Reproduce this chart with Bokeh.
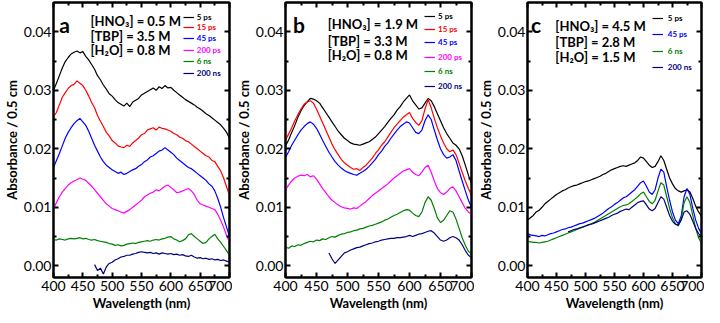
from bokeh.plotting import figure
from bokeh.models import (Range1d, FixedTicker, PrintfTickFormatter, LinearAxis,
                          Legend, LegendItem, Label, CustomJSTickFormatter)
from bokeh.layouts import row
from bokeh.embed import file_html
from bokeh.resources import INLINE

# ---------------- data ----------------
wl = list(range(400, 701, 5))
wl_late = list(range(470, 701, 5))

x_ticks = [400, 450, 500, 550, 600, 650, 700]
x_minor = [425, 475, 525, 575, 625, 675]
y_ticks = [0.0, 0.01, 0.02, 0.03, 0.04]
y_minor = [0.005, 0.015, 0.025, 0.035]

labels6 = ["5 ps", "15 ps", "45 ps", "200 ps", "6 ns", "200 ns"]
labels4 = ["5 ps", "45 ps", "6 ns", "200 ns"]
colors6 = ["#000000", "#ff0000", "#0000ff", "#ff00ff", "#008000", "#000080"]
colors4 = ["#000000", "#0000ff", "#008000", "#000080"]

conc_a = ["[HNO\u2083] = 0.5 M", "[TBP] = 3.5 M", "[H\u2082O] = 0.8 M"]
conc_b = ["[HNO\u2083] = 1.9 M", "[TBP] = 3.3 M", "[H\u2082O] = 0.8 M"]
conc_c = ["[HNO\u2083] = 4.5 M", "[TBP] = 2.8 M", "[H\u2082O] = 1.5 M"]

# panel a
a_5ps = [.0300, .0312, .0325, .0338, .0349, .0356, .0362, .0365, .0367, .0364,
         .0366, .0358, .0352, .0344, .0336, .0325, .0318, .0309, .0302, .0294,
         .0290, .0284, .0279, .0276, .0273, .0278, .0272, .0280, .0283, .0286,
         .0292, .0295, .0298, .0301, .0304, .0300, .0306, .0303, .0308, .0304,
         .0305, .0300, .0296, .0292, .0288, .0284, .0281, .0278, .0275, .0271,
         .0268, .0264, .0260, .0257, .0253, .0249, .0245, .0241, .0235, .0228,
         .0218]
a_15ps = [.0255, .0262, .0275, .0288, .0296, .0303, .0308, .0310, .0316, .0312,
          .0308, .0300, .0290, .0279, .0270, .0257, .0247, .0238, .0228, .0222,
          .0214, .0210, .0205, .0203, .0202, .0206, .0204, .0210, .0214, .0218,
          .0224, .0226, .0232, .0234, .0236, .0232, .0237, .0235, .0234, .0232,
          .0230, .0226, .0224, .0220, .0218, .0214, .0212, .0208, .0204, .0200,
          .0196, .0192, .0188, .0186, .0180, .0178, .0170, .0162, .0150, .0135,
          .0120]
a_45ps = [.0168, .0180, .0192, .0205, .0218, .0228, .0236, .0243, .0248, .0252,
          .0246, .0240, .0230, .0218, .0206, .0196, .0186, .0178, .0172, .0168,
          .0164, .0161, .0158, .0160, .0156, .0158, .0161, .0164, .0166, .0170,
          .0173, .0178, .0181, .0186, .0188, .0192, .0196, .0198, .0202, .0198,
          .0194, .0190, .0184, .0180, .0176, .0172, .0168, .0166, .0162, .0158,
          .0154, .0150, .0146, .0140, .0136, .0128, .0115, .0100, .0082, .0066,
          .0050]
a_200ps = [.0098, .0108, .0118, .0126, .0132, .0138, .0142, .0145, .0147, .0150,
           .0148, .0146, .0141, .0136, .0130, .0124, .0118, .0112, .0106, .0102,
           .0098, .0096, .0094, .0092, .0090, .0093, .0096, .0100, .0104, .0108,
           .0112, .0118, .0121, .0124, .0126, .0130, .0128, .0132, .0136, .0138,
           .0134, .0130, .0125, .0126, .0128, .0130, .0132, .0128, .0122, .0112,
           .0106, .0104, .0102, .0100, .0098, .0096, .0088, .0078, .0066, .0052,
           .0040]
a_6ns = [.0045, .0044, .0046, .0045, .0044, .0046, .0047, .0046, .0047, .0048,
         .0046, .0047, .0045, .0044, .0045, .0043, .0042, .0041, .0040, .0038,
         .0037, .0035, .0036, .0034, .0035, .0037, .0038, .0039, .0038, .0040,
         .0041, .0042, .0043, .0042, .0044, .0045, .0044, .0046, .0047, .0049,
         .0050, .0046, .0044, .0041, .0043, .0046, .0053, .0055, .0050, .0046,
         .0042, .0038, .0040, .0046, .0050, .0054, .0046, .0040, .0033, .0026,
         .0018]
a_200ns = [.0002, -.0008, -.0004, -.0014, -.0002, .0004, .0006, .0010, .0012, .0015,
           .0016, .0018, .0018, .0020, .0021, .0023, .0024, .0023, .0022, .0023,
           .0021, .0022, .0020, .0022, .0021, .0020, .0021, .0019, .0020, .0018,
           .0019, .0017, .0016, .0018, .0015, .0013, .0014, .0012, .0013, .0011,
           .0012, .0010, .0011, .0009, .0010, .0008, .0006]

# panel b
b_5ps = [.0205, .0215, .0228, .0240, .0254, .0265, .0274, .0280, .0286, .0285,
         .0282, .0278, .0270, .0262, .0254, .0246, .0238, .0230, .0224, .0218,
         .0214, .0210, .0208, .0207, .0206, .0208, .0210, .0212, .0216, .0220,
         .0226, .0232, .0238, .0245, .0252, .0258, .0266, .0272, .0280, .0286,
         .0292, .0282, .0275, .0268, .0270, .0278, .0286, .0282, .0272, .0260,
         .0248, .0236, .0226, .0218, .0210, .0206, .0200, .0188, .0172, .0155,
         .0140]
b_15ps = [.0215, .0225, .0236, .0248, .0258, .0268, .0276, .0280, .0282, .0278,
          .0268, .0256, .0244, .0232, .0220, .0208, .0198, .0190, .0182, .0176,
          .0172, .0168, .0165, .0166, .0163, .0168, .0172, .0178, .0184, .0192,
          .0198, .0206, .0212, .0220, .0228, .0236, .0242, .0248, .0254, .0258,
          .0262, .0252, .0245, .0240, .0248, .0268, .0284, .0270, .0252, .0236,
          .0222, .0210, .0200, .0195, .0198, .0190, .0175, .0160, .0145, .0132,
          .0120]
b_45ps = [.0185, .0195, .0206, .0215, .0224, .0232, .0238, .0243, .0246, .0242,
          .0235, .0225, .0214, .0204, .0194, .0186, .0178, .0172, .0167, .0163,
          .0160, .0158, .0156, .0155, .0158, .0161, .0165, .0170, .0176, .0182,
          .0190, .0196, .0204, .0210, .0218, .0225, .0232, .0238, .0242, .0246,
          .0244, .0236, .0228, .0226, .0232, .0248, .0258, .0250, .0232, .0215,
          .0200, .0190, .0184, .0186, .0190, .0180, .0162, .0145, .0128, .0112,
          .0100]
b_200ps = [.0130, .0138, .0145, .0150, .0153, .0155, .0154, .0156, .0152, .0154,
           .0148, .0140, .0132, .0125, .0118, .0112, .0108, .0104, .0101, .0099,
           .0098, .0097, .0099, .0098, .0102, .0106, .0110, .0115, .0120, .0124,
           .0128, .0132, .0136, .0140, .0145, .0150, .0154, .0158, .0162, .0164,
           .0166, .0160, .0156, .0154, .0160, .0168, .0172, .0160, .0145, .0132,
           .0125, .0122, .0126, .0132, .0135, .0128, .0118, .0108, .0098, .0092,
           .0088]
b_6ns = [.0032, .0030, .0034, .0033, .0036, .0035, .0038, .0040, .0042, .0041,
         .0044, .0043, .0046, .0045, .0048, .0050, .0049, .0052, .0054, .0055,
         .0057, .0058, .0060, .0061, .0063, .0064, .0066, .0068, .0069, .0071,
         .0073, .0075, .0078, .0080, .0083, .0086, .0088, .0091, .0094, .0096,
         .0095, .0090, .0086, .0084, .0092, .0108, .0118, .0112, .0098, .0082,
         .0074, .0078, .0086, .0094, .0092, .0080, .0064, .0048, .0035, .0025,
         .0020]
b_200ns = [.0022, .0012, .0004, .0010, .0016, .0022, .0024, .0027, .0029, .0031,
           .0032, .0034, .0036, .0038, .0039, .0041, .0042, .0044, .0045, .0046,
           .0047, .0047, .0048, .0048, .0049, .0050, .0052, .0050, .0052, .0054,
           .0055, .0057, .0059, .0060, .0056, .0050, .0044, .0042, .0044, .0048,
           .0050, .0048, .0044, .0036, .0026, .0018, .0014]

# panel c
c_5ps = [.0078, .0082, .0086, .0092, .0095, .0100, .0106, .0110, .0114, .0118,
         .0122, .0125, .0128, .0130, .0133, .0135, .0137, .0138, .0140, .0142,
         .0144, .0145, .0147, .0149, .0151, .0153, .0156, .0158, .0161, .0164,
         .0166, .0168, .0170, .0171, .0170, .0172, .0174, .0176, .0180, .0186,
         .0184, .0178, .0172, .0168, .0170, .0178, .0188, .0180, .0165, .0150,
         .0140, .0132, .0128, .0126, .0128, .0130, .0126, .0115, .0102, .0092,
         .0085]
c_45ps = [.0055, .0053, .0052, .0051, .0050, .0052, .0051, .0053, .0055, .0056,
          .0058, .0060, .0062, .0063, .0065, .0066, .0068, .0070, .0072, .0073,
          .0075, .0077, .0079, .0081, .0084, .0087, .0090, .0094, .0098, .0101,
          .0105, .0108, .0112, .0116, .0118, .0122, .0126, .0130, .0136, .0142,
          .0145, .0136, .0126, .0122, .0130, .0150, .0165, .0160, .0135, .0112,
          .0092, .0078, .0072, .0085, .0118, .0132, .0122, .0098, .0078, .0064,
          .0055]
c_6ns = [.0042, .0041, .0040, .0040, .0039, .0040, .0041, .0042, .0044, .0046,
         .0048, .0050, .0052, .0054, .0056, .0058, .0060, .0062, .0064, .0066,
         .0068, .0070, .0072, .0074, .0077, .0080, .0083, .0086, .0089, .0092,
         .0095, .0098, .0101, .0103, .0104, .0106, .0110, .0114, .0118, .0123,
         .0126, .0118, .0110, .0106, .0112, .0128, .0142, .0138, .0118, .0098,
         .0082, .0072, .0068, .0080, .0108, .0118, .0108, .0086, .0064, .0048,
         .0038]
c_200ns = [.0058, .0060, .0062, .0063, .0065, .0066, .0068, .0070, .0071, .0073,
           .0075, .0077, .0079, .0081, .0083, .0086, .0088, .0090, .0093, .0095,
           .0097, .0096, .0100, .0104, .0108, .0110, .0111, .0104, .0097, .0094,
           .0098, .0108, .0118, .0114, .0100, .0086, .0076, .0071, .0070, .0078,
           .0092, .0094, .0088, .0076, .0064, .0055, .0050]

# ---------------- styling ----------------
FONT = "Lato"
HEIGHT = 315
BL, BR, BT, BB = 46, 3, 2, 38
OVERHANG = 10          # room Bokeh keeps for the last x tick label
FH = HEIGHT - BT - BB
REF_FH = 282.0


def style_ticks(ax):
    ax.major_tick_in = 5
    ax.major_tick_out = 0
    ax.minor_tick_in = 3
    ax.minor_tick_out = 0
    ax.axis_line_width = 2
    ax.major_tick_line_width = 2
    ax.minor_tick_line_width = 2
    ax.axis_line_color = "black"
    ax.major_tick_line_color = "black"
    ax.minor_tick_line_color = "black"


def blank_axis(ticks, minor):
    return LinearAxis(ticker=FixedTicker(ticks=ticks, minor_ticks=minor),
                      formatter=CustomJSTickFormatter(code="return ''"),
                      major_label_standoff=0, major_label_text_font_size="1px",
                      axis_label_standoff=0)


def make_panel(width, letter, conc, series, labels, colors, leg_frac,
               leg_offsets, leg_standoff, letter_x, text_x, text_ys):
    FW = width - BL - BR - OVERHANG
    p = figure(width=width, height=HEIGHT, x_range=Range1d(400, 700),
               y_range=Range1d(-0.002, 0.045), output_backend="svg",
               toolbar_location=None, min_border_left=BL, min_border_right=BR,
               min_border_top=BT, min_border_bottom=BB)
    p.xgrid.visible = False
    p.ygrid.visible = False
    p.outline_line_color = "black"
    p.outline_line_width = 2
    p.outline_line_alpha = 1
    p.background_fill_color = "white"
    p.border_fill_color = "white"

    bottom = p.xaxis[0]
    left = p.yaxis[0]
    bottom.ticker = FixedTicker(ticks=x_ticks, minor_ticks=x_minor)
    left.ticker = FixedTicker(ticks=y_ticks, minor_ticks=y_minor)
    left.formatter = PrintfTickFormatter(format="%.2f")
    bottom.axis_label = "Wavelength (nm)"
    left.axis_label = "Absorbance / 0.5 cm"

    top = blank_axis(x_ticks, x_minor)
    right = blank_axis(y_ticks, y_minor)
    p.add_layout(top, "above")
    p.add_layout(right, "right")

    for ax in [bottom, left, top, right]:
        style_ticks(ax)
    for ax in [bottom, left]:
        ax.major_label_text_font = FONT
        ax.major_label_text_font_size = "14px"
        ax.major_label_text_color = "black"
        ax.axis_label_text_font = FONT
        ax.axis_label_text_font_size = "13px"
        ax.axis_label_text_font_style = "bold"
        ax.axis_label_text_color = "black"
        ax.axis_label_standoff = 1
        ax.major_label_standoff = 2
    bottom.major_label_standoff = 3

    for i, ((xs, ys), lab, col) in enumerate(zip(series, labels, colors)):
        r = p.line(xs, ys, line_color=col, line_width=1.2)
        gh = 8
        off = leg_offsets[i] * FH / REF_FH
        leg = Legend(items=[LegendItem(label=lab, renderers=[r])],
                     location=(leg_frac * FW, FH - off - gh / 2),
                     background_fill_alpha=0, border_line_alpha=0,
                     padding=0, margin=0, spacing=0,
                     glyph_width=11, glyph_height=gh, label_height=gh,
                     label_standoff=leg_standoff, label_text_font=FONT,
                     label_text_font_size="8px", label_text_font_style="bold",
                     label_text_color=col, label_text_baseline="middle")
        p.add_layout(leg, "center")

    p.add_layout(Label(x=letter_x, y=0.0413, text=letter, text_font=FONT,
                       text_font_size="21px", text_font_style="bold",
                       text_baseline="middle", text_color="black"))
    for t, ty in zip(conc, text_ys):
        p.add_layout(Label(x=text_x, y=ty, text=t, text_font=FONT,
                           text_font_size="13px", text_font_style="bold",
                           text_baseline="middle", text_color="black"))
    return p


pa = make_panel(232, "a", conc_a,
                [(wl, a_5ps), (wl, a_15ps), (wl, a_45ps), (wl, a_200ps),
                 (wl, a_6ns), (wl_late, a_200ns)],
                labels6, colors6, 0.75, [16, 27, 38, 50, 62, 74], 3,
                410, 463, [0.0418, 0.0393, 0.0368])
pb = make_panel(242, "b", conc_b,
                [(wl, b_5ps), (wl, b_15ps), (wl, b_45ps), (wl, b_200ps),
                 (wl, b_6ns), (wl_late, b_200ns)],
                labels6, colors6, 0.76, [15, 29, 42, 57, 72, 87], 3,
                412, 468, [0.0413, 0.0385, 0.0360])
pc = make_panel(230, "c", conc_c,
                [(wl, c_5ps), (wl, c_45ps), (wl, c_6ns), (wl_late, c_200ns)],
                labels4, colors4, 0.73, [17, 34, 51, 68], 5,
                406, 448, [0.0410, 0.0383, 0.0357])

layout = row(pa, pb, pc, spacing=0)
open("out.html", "w").write(file_html(layout, INLINE))
